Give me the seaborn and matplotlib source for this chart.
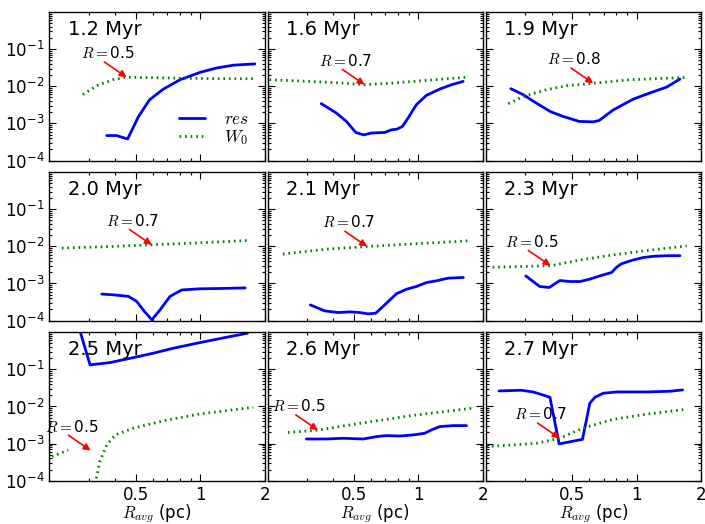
import numpy as np
import pandas as pd
import matplotlib
matplotlib.use("Agg")
import matplotlib.pyplot as plt
import seaborn as sns
from matplotlib.ticker import FixedLocator, NullFormatter, FuncFormatter, LogLocator

# ---------------- data ----------------
titles = ["1.2 Myr", "1.6 Myr", "1.9 Myr", "2.0 Myr", "2.1 Myr",
          "2.3 Myr", "2.5 Myr", "2.6 Myr", "2.7 Myr"]
ratio_labels = ["0.5", "0.7", "0.8", "0.7", "0.7", "0.5", "0.5", "0.5", "0.7"]
tip_x = [0.452, 0.56, 0.627, 0.593, 0.575, 0.396, 0.307, 0.339, 0.437]
tip_y = [1.75e-2, 1.1e-2, 1.2e-2, 1.1e-2, 9.9e-3, 3.0e-3, 6.5e-4, 2.3e-3, 1.39e-3]

res1_x = [0.365, 0.406, 0.457, 0.513, 0.578, 0.672, 0.804, 0.998, 1.19, 1.43, 1.80]
res1_y = [4.7e-4, 4.7e-4, 3.8e-4, 1.5e-3, 4.3e-3, 8.4e-3, 1.5e-2, 2.37e-2, 3.1e-2, 3.7e-2, 4.0e-2]
w01_x = [0.282, 0.33, 0.39, 0.452, 0.6, 0.8, 1.2, 1.77]
w01_y = [6.0e-3, 1.05e-2, 1.5e-2, 1.75e-2, 1.7e-2, 1.65e-2, 1.6e-2, 1.6e-2]

res2_x = [0.351, 0.413, 0.46, 0.509, 0.554, 0.602, 0.695, 0.747, 0.794, 0.841, 0.894, 0.978, 1.09, 1.258, 1.427, 1.618]
res2_y = [3.4e-3, 1.9e-3, 1.13e-3, 5.7e-4, 4.9e-4, 5.5e-4, 5.7e-4, 6.7e-4, 7.0e-4, 8.3e-4, 1.39e-3, 3.2e-3, 5.7e-3, 8.4e-3, 1.1e-2, 1.35e-2]
w02_x = [0.201, 0.31, 0.444, 0.56, 0.761, 1.09, 1.708]
w02_y = [1.5e-2, 1.35e-2, 1.22e-2, 1.1e-2, 1.22e-2, 1.44e-2, 1.77e-2]

res3_x = [0.258, 0.295, 0.34, 0.396, 0.453, 0.539, 0.627, 0.668, 0.777, 0.964, 1.154, 1.382, 1.594]
res3_y = [8.6e-3, 5.9e-3, 3.5e-3, 2.06e-3, 1.54e-3, 1.13e-3, 1.1e-3, 1.2e-3, 2.3e-3, 4.5e-3, 6.6e-3, 9.5e-3, 1.56e-2]
w03_x = [0.251, 0.295, 0.379, 0.47, 0.627, 0.93, 1.714]
w03_y = [3.4e-3, 5.3e-3, 8.1e-3, 1.03e-2, 1.2e-2, 1.5e-2, 1.73e-2]

res4_x = [0.346, 0.399, 0.461, 0.504, 0.542, 0.593, 0.648, 0.722, 0.819, 0.998, 1.194, 1.621]
res4_y = [5.2e-4, 4.9e-4, 4.5e-4, 3.3e-4, 1.9e-4, 1.05e-4, 1.95e-4, 4.5e-4, 6.7e-4, 7.2e-4, 7.3e-4, 7.6e-4]
w04_x = [0.225, 0.4, 0.593, 1.0, 1.71]
w04_y = [9.0e-3, 1.0e-2, 1.1e-2, 1.25e-2, 1.45e-2]

res5_x = [0.312, 0.364, 0.421, 0.477, 0.531, 0.581, 0.631, 0.708, 0.789, 0.879, 0.978, 1.09, 1.214, 1.376, 1.621]
res5_y = [2.65e-4, 1.83e-4, 1.65e-4, 1.72e-4, 1.65e-4, 1.52e-4, 1.58e-4, 2.94e-4, 5.3e-4, 7.0e-4, 8.3e-4, 1.06e-3, 1.18e-3, 1.39e-3, 1.45e-3]
w05_x = [0.232, 0.371, 0.575, 1.09, 1.708]
w05_y = [6.2e-3, 8.4e-3, 9.9e-3, 1.22e-2, 1.41e-2]

res6_x = [0.303, 0.352, 0.39, 0.437, 0.487, 0.543, 0.604, 0.673, 0.764, 0.806, 0.85, 0.964, 1.074, 1.196, 1.382, 1.594]
res6_y = [1.6e-3, 8.3e-4, 7.8e-4, 1.2e-3, 1.13e-3, 1.13e-3, 1.31e-3, 1.6e-3, 1.98e-3, 2.75e-3, 3.4e-3, 4.3e-3, 5.0e-3, 5.4e-3, 5.6e-3, 5.6e-3]
w06_x = [0.212, 0.396, 0.543, 0.777, 1.113, 1.714]
w06_y = [2.75e-3, 3.0e-3, 4.3e-3, 5.9e-3, 7.7e-3, 1.03e-2]

res7_x = [0.269, 0.305, 0.378, 0.486, 0.603, 0.749, 0.998, 1.33, 1.663]
res7_y = [1.5, 0.132, 0.152, 0.207, 0.272, 0.371, 0.526, 0.733, 0.94]
w07_x = [0.202, 0.241, 0.275, 0.31, 0.339, 0.365, 0.399, 0.486, 0.697, 0.998, 1.77]
w07_y = [4.5e-4, 6.7e-4, np.nan, 3e-5, 3.3e-4, 9.2e-4, 1.7e-3, 2.6e-3, 4.3e-3, 6.3e-3, 9.5e-3]

res8_x = [0.299, 0.371, 0.444, 0.551, 0.636, 0.708, 0.818, 0.944, 1.07, 1.15, 1.258, 1.453, 1.677]
res8_y = [1.33e-3, 1.33e-3, 1.39e-3, 1.33e-3, 1.54e-3, 1.64e-3, 1.6e-3, 1.71e-3, 1.9e-3, 2.33e-3, 2.87e-3, 3.05e-3, 3.05e-3]
w08_x = [0.245, 0.339, 0.531, 0.911, 1.77]
w08_y = [2.0e-3, 2.3e-3, 3.5e-3, 5.6e-3, 8.9e-3]

res9_x = [0.227, 0.289, 0.328, 0.393, 0.434, 0.558, 0.604, 0.638, 0.698, 0.806, 1.113, 1.432, 1.641]
res9_y = [2.62e-2, 2.73e-2, 2.46e-2, 1.77e-2, 9.8e-4, 1.3e-3, 1.22e-2, 1.77e-2, 2.27e-2, 2.46e-2, 2.46e-2, 2.57e-2, 2.79e-2]
w09_x = [0.198, 0.265, 0.34, 0.437, 0.56, 0.777, 1.113, 1.714]
w09_y = [8.3e-4, 9.2e-4, 1.02e-3, 1.39e-3, 2.6e-3, 4.5e-3, 6.2e-3, 8.4e-3]

res_x = [res1_x, res2_x, res3_x, res4_x, res5_x, res6_x, res7_x, res8_x, res9_x]
res_y = [res1_y, res2_y, res3_y, res4_y, res5_y, res6_y, res7_y, res8_y, res9_y]
w0_x = [w01_x, w02_x, w03_x, w04_x, w05_x, w06_x, w07_x, w08_x, w09_x]
w0_y = [w01_y, w02_y, w03_y, w04_y, w05_y, w06_y, w07_y, w08_y, w09_y]

RES, W0 = r"$res$", r"$W_0$"

# ---------------- style ----------------
sns.set_style("ticks")
plt.rcParams.update({
    "font.family": ["DejaVu Sans"],
    "mathtext.fontset": "cm",
    "lines.scale_dashes": False,
    "axes.edgecolor": "black",
    "axes.linewidth": 1.0,
    "text.color": "black",
    "axes.labelcolor": "black",
    "xtick.color": "black",
    "ytick.color": "black",
    "xtick.labelsize": 12,
    "ytick.labelsize": 12,
})


def frame(xs, ys, name):
    rows = []
    seg = 0
    for xv, yv in zip(xs, ys):
        if yv is None or (isinstance(yv, float) and np.isnan(yv)):
            seg += 1
            continue
        rows.append({"x": xv, "y": yv, "series": name, "seg": f"{name}{seg}"})
    return pd.DataFrame(rows)


fig, axes = plt.subplots(3, 3, figsize=(7.05, 5.24), dpi=100, sharex=True, sharey=True)
fig.subplots_adjust(left=0.0702, right=0.9943, top=0.9771, bottom=0.0826,
                    wspace=0.0139, hspace=0.078)

palette = {RES: "#0000ff", W0: "#008000"}
dashes = {RES: "", W0: (1.2, 2.8)}

for i, ax in enumerate(axes.flat):
    ax.set_xscale("log")
    ax.set_yscale("log")
    df = pd.concat([frame(res_x[i], res_y[i], RES), frame(w0_x[i], w0_y[i], W0)],
                   ignore_index=True)
    sns.lineplot(data=df, x="x", y="y", hue="series", style="series", units="seg",
                 estimator=None, sort=False, palette=palette, dashes=dashes,
                 hue_order=[RES, W0], style_order=[RES, W0],
                 linewidth=2, ax=ax, legend=(i == 0))
    ax.set_xlabel("")
    ax.set_ylabel("")
    ax.text(0.085, 0.885, titles[i], transform=ax.transAxes, fontsize=14,
            ha="left", va="center", color="black")
    ax.annotate("", xy=(tip_x[i], tip_y[i]), xytext=(-16, 11), textcoords="offset points",
                arrowprops=dict(arrowstyle="-|>", color="red", lw=1.2,
                                mutation_scale=10, shrinkA=0, shrinkB=0))
    ax.annotate(r"$R=$" + ratio_labels[i], xy=(tip_x[i], tip_y[i]), xytext=(-13.7, 17.3),
                textcoords="offset points", ha="center", va="center", fontsize=11,
                color="black")
    ax.tick_params(which="both", direction="in", top=True, right=True, width=0.8)
    ax.tick_params(which="major", length=5)
    ax.tick_params(which="minor", length=2.5)
    if i == 0:
        leg = ax.get_legend()
        handles = list(leg.legend_handles)
        labels = [t.get_text() for t in leg.get_texts()]
        leg.remove()
        ax.legend(handles, labels, loc="lower right", bbox_to_anchor=(0.93, 0.09),
                  frameon=False, fontsize=12.5, handlelength=1.5, handletextpad=1.1,
                  labelspacing=0.0, borderpad=0, borderaxespad=0)

ax0 = axes[0, 0]
ax0.set_xlim(0.197, 2.0)
ax0.set_ylim(1e-4, 1.0)
ax0.xaxis.set_major_locator(FixedLocator([0.5, 1, 2]))
ax0.xaxis.set_major_formatter(FuncFormatter(lambda v, p: f"{v:g}"))
ax0.xaxis.set_minor_locator(FixedLocator([0.3, 0.4, 0.6, 0.7, 0.8, 0.9]))
ax0.xaxis.set_minor_formatter(NullFormatter())
ax0.yaxis.set_major_locator(FixedLocator([1e-4, 1e-3, 1e-2, 1e-1]))
ax0.yaxis.set_minor_locator(LogLocator(base=10, subs=np.arange(2, 10)))
ax0.yaxis.set_minor_formatter(NullFormatter())

for ax in axes[-1, :]:
    ax.set_xlabel(r"$R_{avg}$ (pc)", fontsize=12, labelpad=-1)

fig.savefig("out.png", dpi=100)
